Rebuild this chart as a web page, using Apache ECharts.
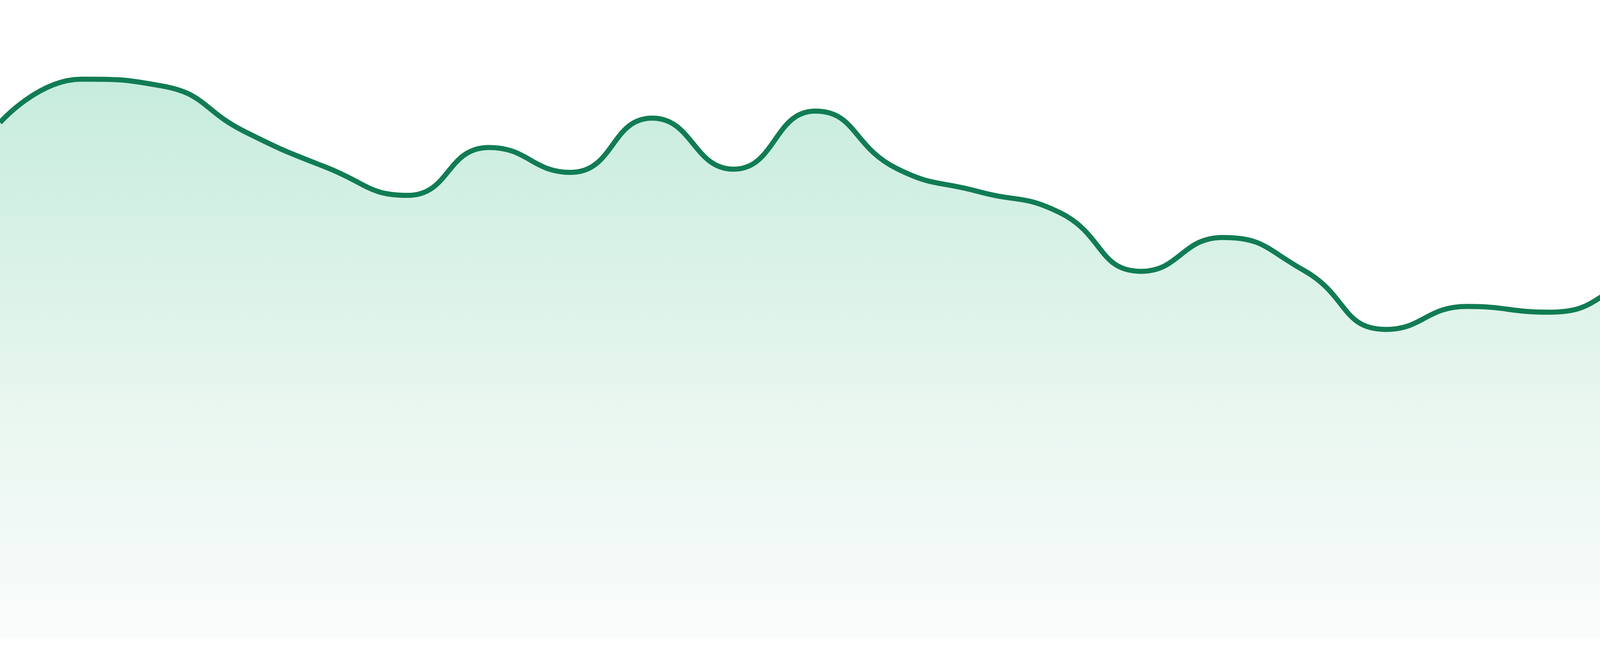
<!DOCTYPE html>
<html>
<head>
<meta charset="utf-8">
<script src="https://cdn.jsdelivr.net/npm/echarts@6/dist/echarts.min.js"></script>
<style>
  html, body { margin: 0; padding: 0; background: #ffffff; overflow: hidden; }
  #chart { width: 4800px; height: 1680px; }
</style>
</head>
<body>
<div id="chart"></div>
<script>
// Categories (hidden axis) — 24 evenly spaced points
const categories = ['00:00','01:00','02:00','03:00','04:00','05:00','06:00','07:00',
  '08:00','09:00','10:00','11:00','12:00','13:00','14:00','15:00',
  '16:00','17:00','18:00','19:00','20:00','21:00','22:00','23:00'];

// Series values (percent of plot height)
const values = [80.8, 87.6, 86.5, 79.4, 73.8, 69.4, 76.9, 73.0,
  81.5, 73.5, 82.6, 73.6, 70.0, 66.7, 57.5, 62.8,
  57.6, 48.4, 52.0, 51.1, 56.1, 63.3, 57.8, 52.3];

const yMin = 0;
const yMax = 100;

const chart = echarts.init(document.getElementById('chart'), null, { renderer: 'canvas' });
chart.setOption({
  animation: false,
  backgroundColor: '#ffffff',
  grid: { left: 0, right: 0, top: 0, bottom: 45, containLabel: false },
  xAxis: {
    type: 'category',
    data: categories,
    boundaryGap: false,
    show: false
  },
  yAxis: {
    type: 'value',
    min: yMin,
    max: yMax,
    show: false,
    splitLine: { show: false }
  },
  series: [{
    type: 'line',
    data: values,
    smooth: true,
    showSymbol: false,
    symbol: 'none',
    lineStyle: { color: '#117c53', width: 13 },
    areaStyle: {
      color: new echarts.graphic.LinearGradient(0, 0, 0, 1, [
        { offset: 0, color: '#aee4ce' },
        { offset: 0.6, color: '#e0f3ea' },
        { offset: 1, color: '#f8fbfa' }
      ])
    }
  }]
});
</script>
</body>
</html>
